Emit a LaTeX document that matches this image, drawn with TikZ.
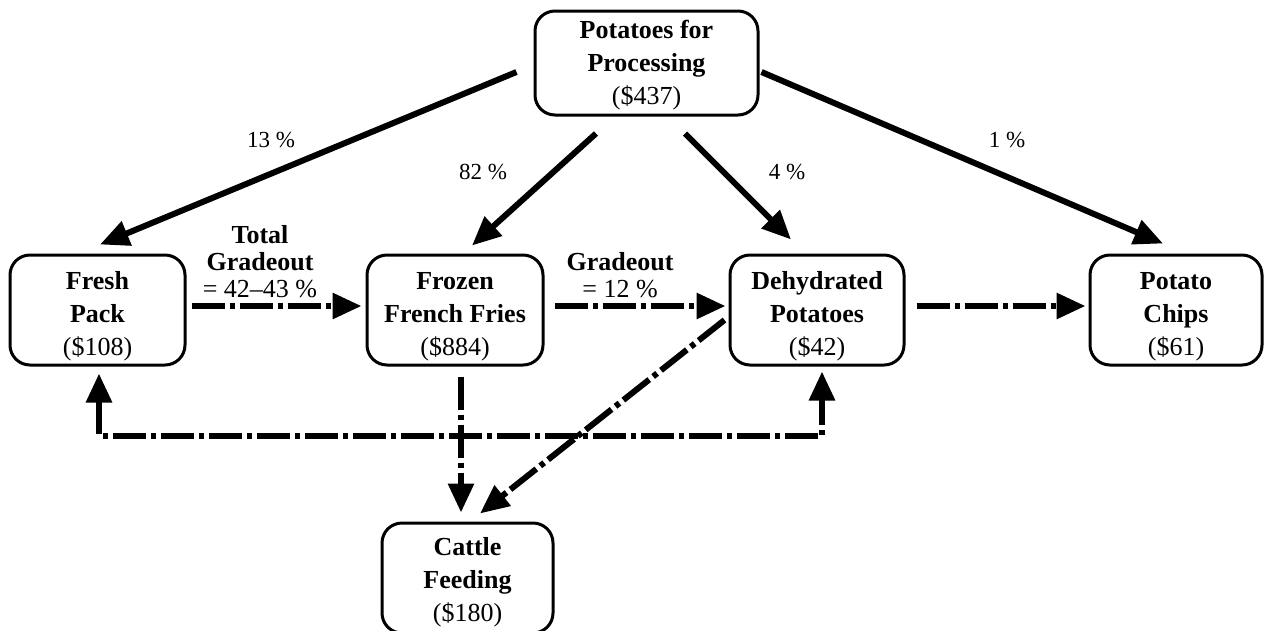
\documentclass[tikz,border=0pt]{standalone}
\usepackage{fontspec}
\setmainfont{Liberation Serif}
\usetikzlibrary{arrows.meta,calc}
\newcommand\boxstrut[1]{\rule{0pt}{#1}}
\tikzset{
  box/.style={draw, line width=3pt, rounded corners=20pt, align=center, inner sep=0pt,
    minimum width=174pt, minimum height=110pt, font=\fontsize{26}{33}\selectfont},
  flow/.style={line width=6pt, -{Triangle[length=29pt,width=25pt]}},
  grade/.style={flow, dash pattern=on 33pt off 5pt on 5pt off 5pt},
  lbl/.style={align=center, inner sep=0pt, font=\fontsize{26}{27}\selectfont},
  pct/.style={inner sep=0pt, font=\fontsize{23}{27}\selectfont},
}
\begin{document}
\begin{tikzpicture}[x=1pt,y=-1pt]
\clip (0,0) rectangle (1268,630);
% boxes
\node[box, minimum width=223pt, minimum height=104pt] (top) at (646.5,63)
  {\boxstrut{23pt}\textbf{Potatoes for}\\\textbf{Processing}\\(\$437)};
\node[box, minimum width=175pt] (fresh) at (97.5,310) {\boxstrut{30pt}\textbf{Fresh}\\\textbf{Pack}\\(\$108)};
\node[box, minimum width=176pt] (frozen) at (455,310) {\boxstrut{30pt}\textbf{Frozen}\\\textbf{French Fries}\\(\$884)};
\node[box] (dehyd) at (817,310) {\boxstrut{30pt}\textbf{Dehydrated}\\\textbf{Potatoes}\\(\$42)};
\node[box, minimum width=172pt] (chips) at (1176,310) {\boxstrut{30pt}\textbf{Potato}\\\textbf{Chips}\\(\$61)};
\node[box, minimum width=171pt] (cattle) at (467.5,578) {\boxstrut{26pt}\textbf{Cattle}\\\textbf{Feeding}\\(\$180)};
% solid arrows from the top box
\draw[flow] ($(top.west)+(-17,9)$) -- ($(fresh.north)+(2.5,-9)$);
\draw[flow] ($(top.south)+(-50.5,17)$) -- ($(frozen.north)+(17,-8)$);
\draw[flow] ($(top.south)+(38.5,17)$) -- ($(dehyd.north)+(-26,-14)$);
\draw[flow] ($(top.east)+(2,9)$) -- ($(chips.north)+(-13,-10)$);
% percentages
\node[pct] (p13) at (271,140) {13 \%};
\node[pct] (p82) at (483,172) {82 \%};
\node[pct] (p4) at (787,172) {4 \%};
\node[pct] (p1) at (1007,140) {1 \%};
% gradeout arrows
\draw[grade] ($(fresh.east)+(5,-4)$) -- ($(frozen.west)+(-4,-4)$);
\draw[grade] ($(frozen.east)+(10,-4)$) -- ($(dehyd.west)+(-3,-4)$);
\draw[grade] ($(dehyd.east)+(11,-4)$) -- ($(chips.west)+(-3,-4)$);
\draw[grade] ($(frozen.south)+(6,10)$) -- ($(cattle.north)+(-6.5,-9)$);
\draw[grade] ($(dehyd.west)+(-4,10)$) -- ($(cattle.north)+(12.5,-8)$);
\draw[grade, {Triangle[length=29pt,width=25pt]}-{Triangle[length=29pt,width=25pt]}]
  ($(fresh.south)+(1.5,7)$) |- ($(dehyd.south)+(5,69)$) -- ($(dehyd.south)+(5,5)$);
% labels
\node[lbl] (tg) at (260,262) {\textbf{Total}\\\textbf{Gradeout}\\= 42–43 \%};
\node[lbl] (g12) at (620,275) {\textbf{Gradeout}\\= 12 \%};
\end{tikzpicture}
\end{document}
